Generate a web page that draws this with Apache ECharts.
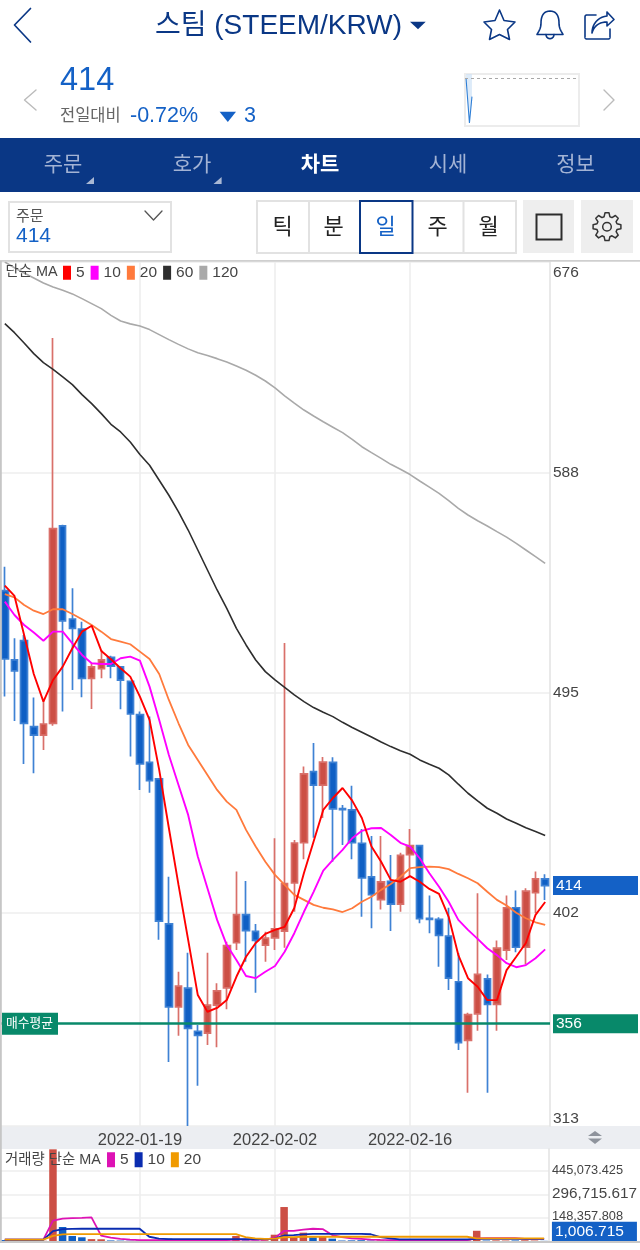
<!DOCTYPE html>
<html lang="ko">
<head>
<meta charset="utf-8">
<title>스팀 (STEEM/KRW)</title>
<style>
  html, body { margin: 0; padding: 0; background: #fff; }
  #chart { width: 640px; height: 1250px; }
</style>
<script src="https://cdn.jsdelivr.net/npm/echarts@6/dist/echarts.min.js"></script>
</head>
<body>
<div id="chart"></div>
<script>
// Daily session dates
const dates = [
  '2022-01-05','2022-01-06','2022-01-07','2022-01-08','2022-01-09','2022-01-10','2022-01-11','2022-01-12','2022-01-13','2022-01-14',
  '2022-01-15','2022-01-16','2022-01-17','2022-01-18','2022-01-19','2022-01-20','2022-01-21','2022-01-22','2022-01-23','2022-01-24',
  '2022-01-25','2022-01-26','2022-01-27','2022-01-28','2022-01-29','2022-01-30','2022-01-31','2022-02-01','2022-02-02','2022-02-03',
  '2022-02-04','2022-02-05','2022-02-06','2022-02-07','2022-02-08','2022-02-09','2022-02-10','2022-02-11','2022-02-12','2022-02-13',
  '2022-02-14','2022-02-15','2022-02-16','2022-02-17','2022-02-18','2022-02-19','2022-02-20','2022-02-21','2022-02-22','2022-02-23',
  '2022-02-24','2022-02-25','2022-02-26','2022-02-27','2022-02-28','2022-03-01','2022-03-02'
];
const labelledDates = ['2022-01-19', '2022-02-02', '2022-02-16'];

// open, close, low, high
const candles = [
  [537.9,509.2,493.4,548.0],[508.8,504.2,483.2,517.9],[516.9,482.2,465.1,519.3],[480.8,477.2,461.2,493.0],[477.2,481.9,471.0,491.3],
  [482.2,564.0,481.2,644.1],[565.1,525.2,487.1,565.6],[526.0,522.1,496.2,538.9],[521.8,501.1,493.1,524.9],[501.1,505.9,488.2,507.5],
  [505.1,508.8,501.1,513.0],[509.9,506.2,501.1,510.6],[505.9,500.3,488.1,506.2],[499.8,486.1,468.2,500.0],[485.8,465.1,454.2,487.1],
  [465.8,458.1,453.0,485.0],[458.8,399.1,391.2,459.0],[397.9,363.0,339.9,417.7],[363.0,371.8,350.9,377.8],[370.9,354.0,313.0,385.8],
  [352.8,351.1,329.9,355.4],[352.0,363.8,347.0,385.8],[363.8,369.8,346.1,373.0],[371.0,388.8,362.0,390.4],[390.0,401.8,386.9,419.9],
  [401.8,395.1,382.0,415.9],[394.8,391.0,369.0,397.9],[389.0,391.9,382.0,394.6],[392.0,395.8,386.9,433.9],[394.9,414.8,387.9,515.9],
  [415.1,431.9,403.0,433.2],[432.0,460.9,425.1,464.0],[461.9,456.2,434.1,473.9],[456.2,465.9,442.4,468.0],[465.8,446.2,424.0,467.9],
  [446.3,445.9,431.1,447.9],[445.8,432.0,425.1,455.9],[431.8,417.2,400.9,437.8],[417.7,410.2,396.1,434.8],[408.1,415.6,404.0,434.8],
  [415.8,406.2,394.9,426.9],[406.2,426.7,403.0,427.8],[427.0,430.8,417.7,437.8],[430.8,400.1,398.2,431.0],[400.2,399.8,394.0,409.8],
  [399.8,393.1,379.9,400.7],[392.8,375.1,370.1,404.7],[373.6,348.0,344.9,385.6],[349.0,359.8,327.0,360.6],[360.1,376.7,353.0,410.8],
  [374.8,364.1,327.0,376.7],[364.1,387.7,353.0,390.9],[386.9,404.7,382.7,409.8],[404.7,388.1,386.0,411.9],[388.1,411.7,380.9,412.9],
  [411.0,416.8,402.5,419.9],[416.8,414.0,408.0,418.8]
];

const ma5 = [540.0,535.7,519.3,502.9,491.3,500.4,506.0,513.7,520.7,523.2,512.6,509.1,505.3,501.8,493.4,483.6,462.6,438.2,414.3,391.2,
  368.0,361.0,362.6,365.9,375.7,384.1,389.9,393.7,395.4,396.7,404.6,419.3,432.5,445.8,450.8,455.0,449.7,442.4,430.4,424.0,
  416.4,415.6,418.0,415.6,412.6,410.5,400.9,384.8,375.1,371.5,365.9,365.9,378.5,384.1,389.9,401.7,407.1];
const ma10 = [533.3,527.7,523.5,520.3,516.9,520.7,520.7,515.8,510.9,507.4,507.1,507.1,509.5,510.2,508.5,497.6,483.6,468.9,456.3,443.7,
  426.2,412.9,399.6,389.0,382.7,376.0,375.1,377.8,380.2,386.2,394.0,403.0,411.4,420.3,424.8,429.0,433.9,437.0,438.1,438.2,
  435.3,432.0,430.4,425.5,419.2,413.5,407.2,399.6,395.4,391.6,387.7,384.8,381.4,379.7,380.6,383.5,387.2];
const ma20 = [536.5,535.1,531.9,529.5,528.1,530.1,530.1,528.1,525.9,523.5,520.7,517.6,516.5,515.4,512.3,509.2,502.9,492.0,482.2,473.1,
  466.8,460.5,454.2,449.3,445.8,437.4,430.4,424.0,418.5,414.3,410.1,408.0,405.9,404.7,404.0,402.9,404.5,407.2,409.3,412.2,
  414.7,417.7,421.3,421.8,422.0,421.8,420.9,418.9,417.1,415.0,411.4,408.0,405.6,402.6,400.3,398.6,397.5];
const ma60 = [650.1,646.3,642.0,637.5,633.7,630.9,627.7,624.5,620.3,616.5,612.3,607.8,604.6,600.4,595.1,590.6,584.3,578.0,571.0,563.4,
  555.0,546.6,538.2,530.5,522.1,515.1,508.8,503.9,500.4,497.3,494.1,491.3,488.8,486.8,485.0,482.6,480.4,478.4,476.4,474.3,
  472.4,470.7,469.2,466.8,465.0,463.3,460.5,456.6,452.8,449.6,446.5,444.4,442.0,440.2,438.3,436.7,435.1];
const ma120 = [676.0,673.6,671.4,669.3,667.2,665.5,664.1,662.6,660.6,658.5,656.4,653.6,651.2,650.0,649.1,647.6,645.5,643.4,641.4,639.5,
  637.9,636.7,635.4,634.0,632.3,630.5,628.4,626.0,623.1,619.8,616.7,613.8,611.3,608.9,606.6,604.3,601.5,598.4,595.9,593.5,
  591.0,588.9,586.7,584.0,581.4,578.8,575.7,572.5,569.7,567.3,565.1,562.7,560.4,557.8,555.0,552.2,549.4];

// Axis ticks fall on fractional prices; the labels show them rounded
const priceTicks = [313, 402.4, 495, 587.5, 676];
const lastPrice = 414;
const avgBuyPrice = 356;

const volumes = [6000,3000,2000,2000,1500,583000,89000,32000,23500,12000,11000,3500,2500,2000,2500,2000,2500,15000,3000,4000,
  2500,3000,2500,3000,32000,4000,3000,5000,40000,216000,22000,53000,23000,27000,15000,3000,4000,5000,3000,4000,
  3000,3500,2500,2000,1500,2000,2500,4500,4000,65000,3000,4000,3000,3500,4500,3000,1006.715];
const volMa5 = [8000,8000,8000,8000,8500,130000,142000,146000,147000,150000,34000,21000,14000,9000,6000,5500,5000,5500,5500,5000,
  5000,5000,5000,5500,9000,8500,8000,9000,19000,64000,65000,72000,78000,76000,38000,24000,17000,14000,9000,7000,
  6000,6000,5000,5000,5000,5000,5000,5000,5000,17000,18000,18000,18000,18000,14000,14000,13000];
const volMa10 = [8000,8000,8000,8000,8000,63000,75000,77000,78000,78000,78000,78000,78000,78000,78000,27000,15000,12000,12000,12000,
  12000,12000,12000,12000,12000,12000,12000,12000,15000,35000,38000,42000,45000,45000,45000,45000,45000,45000,43000,24000,
  17000,10000,10000,10000,10000,10000,10000,10000,10000,14000,14000,14000,14000,14000,14000,14000,14000];
const volMa20 = [9000,9000,9000,9000,9000,33000,42000,44000,44000,44000,44000,44000,44000,44000,44000,44000,44000,44000,44000,44000,
  44000,44000,44000,44000,44000,24000,17000,14000,15000,24000,25000,27000,27000,27000,27000,27000,27000,27000,27000,27000,
  27000,27000,27000,27000,27000,27000,27000,27000,27000,17000,17000,17000,17000,17000,17000,17000,17000];
const volumeTicks = [148357.808, 296715.617, 445073.425];
const lastVolume = 1006.715;

// Intraday sparkline: minutes into the session, price, and previous close
const sparkTimes = [0.9, 3.9, 6.1];
const sparkPrices = [417, 409.7, 414];
const prevClose = 417;

const FONT = '"Liberation Sans","Noto Sans CJK KR",sans-serif';
const NAVY = '#0a3785';
const BLUE = '#1461c6';
const UP = '#cc4f45', UP_EDGE = '#d9706a';
const DOWN = '#0f5fc4', DOWN_EDGE = '#3f82d4';
const GREEN = '#08896a';
const GRID_LINE = '#eeeeee';
const NO_LINE = { color: 'rgba(0,0,0,0)', width: 1, type: 'solid' };

const fmt3 = v => v.toLocaleString('en-US', { minimumFractionDigits: 3, maximumFractionDigits: 3 });

// --- drawing helpers for the app chrome around the chart ---
const label = (x, y, text, size, fill, extra = {}) => ({
  type: 'text', x, y: y + 1.5, z: 20, silent: true,
  style: { text, fill, font: `${extra.weight || 'normal'} ${size}px ${FONT}`,
    textAlign: extra.align || 'left', textVerticalAlign: 'middle' }
});
const box = (x, y, width, height, fill, stroke, lineWidth = 0, z = 10) => ({
  type: 'rect', z, silent: true, shape: { x, y, width, height },
  style: { fill: fill || 'transparent', stroke: stroke || 'transparent', lineWidth }
});
const tri = (points, fill) => ({ type: 'polygon', z: 20, silent: true, shape: { points }, style: { fill } });

// Icon outlines written as small M/L/C/Q/Z paths, flattened into polylines for the graphic component
function stroke(d, color, lineWidth = 1.6) {
  const tokens = d.trim().split(/\s+/);
  const runs = [];
  let cur = null, i = 0;
  const num = () => parseFloat(tokens[i++]);
  while (i < tokens.length) {
    const cmd = tokens[i++];
    if (cmd === 'M') { cur = [[num(), num()]]; runs.push(cur); }
    else if (cmd === 'L') { cur.push([num(), num()]); }
    else if (cmd === 'Z') { cur.push(cur[0].slice()); }
    else if (cmd === 'C' || cmd === 'Q') {
      const p0 = cur[cur.length - 1];
      const pts = [];
      for (let k = 0; k < (cmd === 'C' ? 3 : 2); k++) pts.push([num(), num()]);
      for (let s = 1; s <= 10; s++) {
        const t = s / 10, u = 1 - t;
        if (cmd === 'C') {
          cur.push([0, 1].map(a => u*u*u*p0[a] + 3*u*u*t*pts[0][a] + 3*u*t*t*pts[1][a] + t*t*t*pts[2][a]));
        } else {
          cur.push([0, 1].map(a => u*u*p0[a] + 2*u*t*pts[0][a] + t*t*pts[1][a]));
        }
      }
    }
  }
  return runs.map(points => ({
    type: 'polyline', z: 20, silent: true, shape: { points },
    style: { stroke: color, lineWidth, fill: null, lineJoin: 'round', lineCap: 'round' }
  }));
}

function gearPath(cx, cy, rOut, rIn, teeth) {
  let d = '';
  for (let i = 0; i < teeth; i++) {
    const step = Math.PI * 2 / teeth, a = i * step - Math.PI / 2;
    const pts = [[rIn, a - step * 0.36], [rOut, a - step * 0.18], [rOut, a + step * 0.18], [rIn, a + step * 0.36]];
    pts.forEach((p, j) => {
      d += `${i === 0 && j === 0 ? 'M' : 'L'} ${(cx + p[0] * Math.cos(p[1])).toFixed(1)} ${(cy + p[0] * Math.sin(p[1])).toFixed(1)} `;
    });
  }
  return d + 'Z';
}

const chrome = [
  // header
  stroke('M 30.5 8.5 L 14.5 25 L 30.5 42', NAVY, 1.7),
  label(278.5, 25, '스팀 (STEEM/KRW)', 28, NAVY, { align: 'center' }),
  tri([[410, 21.7], [425.7, 21.7], [418, 29.3]], NAVY),
  stroke('M 499.5 10 L 504 20.5 L 515 22 L 507.5 29.5 L 509.5 39.5 L 499.5 34.5 L 489.5 39.5 L 491.5 29.5 L 484 22 L 495 20.5 Z', NAVY),
  stroke('M 550 11 C 543 11 541 17 541 23 C 541 28 539 31 537 34.5 L 563 34.5 C 561 31 559 28 559 23 C 559 17 557 11 550 11 M 546 34.5 C 546 40 554 40 554 34.5', NAVY),
  stroke('M 596 15 L 587 15 Q 585 15 585 17 L 585 37 Q 585 39 587 39 L 608 39 Q 610 39 610 37 L 610 29', NAVY),
  stroke('M 607 12 L 614 19.5 L 607 26 L 607 22 C 599 22 594 26 592 33 C 592 24 598 17 607 16 Z', NAVY),

  // quote row
  label(60, 80, '414', 32.5, BLUE),
  label(60, 115, '전일대비', 16.5, '#666666'),
  label(130, 115, '-0.72%', 21.5, BLUE),
  tri([[219.6, 111.7], [236, 111.7], [227.8, 122]], BLUE),
  label(244, 115, '3', 21.5, BLUE),
  stroke('M 36 90 L 24.5 100 L 36 110', '#bbbbbb', 1.4),
  stroke('M 604 90 L 614 100 L 604 110', '#bbbbbb', 1.4),

  // tab bar
  box(0, 138, 640, 54, NAVY, null, 0, 5),
  label(63, 164, '주문', 21, '#a3b3d4', { align: 'center' }),
  label(192, 164, '호가', 21, '#a3b3d4', { align: 'center' }),
  label(320, 164, '차트', 21, '#ffffff', { align: 'center', weight: 'bold' }),
  label(448, 164, '시세', 21, '#a3b3d4', { align: 'center' }),
  label(575.5, 164, '정보', 21, '#a3b3d4', { align: 'center' }),
  tri([[94, 177], [94, 184], [86, 184]], '#a9b8d4'),
  tri([[221.6, 177], [221.6, 184], [213.5, 184]], '#a9b8d4'),

  // order selector
  box(9, 202, 162, 50, '#fff', '#e2e2e2', 2),
  label(16, 215, '주문', 15, '#555555'),
  label(16, 235, '414', 21, BLUE),
  stroke('M 145 211 L 153.5 220 L 162 211', '#555555', 1.3),

  // interval selector
  box(257, 201, 259, 52, '#fff', '#e2e2e2', 2),
  stroke('M 309 201 L 309 253 M 463.5 201 L 463.5 253', '#e2e2e2', 2),
  box(360, 201, 52.5, 52, '#fff', NAVY, 2, 12),
  label(282.5, 226, '틱', 22, '#222222', { align: 'center' }),
  label(333.5, 226, '분', 22, '#222222', { align: 'center' }),
  label(385.5, 226, '일', 22, BLUE, { align: 'center' }),
  label(437.5, 226, '주', 22, '#222222', { align: 'center' }),
  label(488.5, 226, '월', 22, '#222222', { align: 'center' }),

  // display and settings buttons
  box(523, 200, 51, 53, '#eeeeee'),
  box(581, 200, 52, 53, '#eeeeee'),
  box(536.5, 214.5, 25, 25, 'transparent', '#2c2c2c', 2, 20),
  stroke(gearPath(607, 226.7, 14, 10.4, 8), '#333333', 1.5),
  { type: 'circle', z: 20, silent: true, shape: { cx: 607, cy: 226.7, r: 4.3 }, style: { fill: 'transparent', stroke: '#333333', lineWidth: 1.5 } },

  // panel frame and date strip
  box(0, 260, 640, 1.8, '#cfcfcf', null, 0, 15),
  box(0, 261, 1.8, 980, '#c6c6c6', null, 0, 15),
  box(0, 1241, 640, 2, '#c8c8c8', null, 0, 15),
  Object.assign(box(0, 1126, 640, 23, '#eceef2'), { z: -1 }),
  tri([[588, 1136], [602, 1136], [595, 1131]], '#8e939c'),
  tri([[588, 1138.5], [602, 1138.5], [595, 1144]], '#8e939c'),

  // panel captions
  label(5.5, 271, '단순 MA', 14.4, '#444444'),
  label(5, 1159, '거래량 단순 MA', 14.4, '#444444')
].flat();

// --- chart series ---
function isLabelledIndex(i) { return labelledDates.includes(dates[i]); }
const maLine = (name, data, color, width, x = 0) => ({
  name, type: 'line', data, xAxisIndex: x, yAxisIndex: x, symbol: 'none', showSymbol: false, silent: true, smooth: false,
  lineStyle: { color, width }, itemStyle: { color }, z: 5
});

const sideLabel = (text, bg) => ({
  show: true, position: 'end', distance: 3, formatter: text, color: '#fff',
  fontFamily: FONT, fontSize: 15.5, backgroundColor: bg,
  width: 82, height: 17, lineHeight: 17, padding: [2, 0, 0, 3], align: 'left', verticalAlign: 'middle'
});

const option = {
  animation: false,
  textStyle: { fontFamily: FONT },
  graphic: { elements: chrome },
  legend: [
    {
      left: 63, top: 265, icon: 'rect', itemWidth: 8, itemHeight: 14, itemGap: 6, selectedMode: false,
      data: ['5', '10', '20', '60', '120'],
      textStyle: { color: '#444', fontSize: 15.5, fontFamily: FONT }, padding: 0
    },
    {
      left: 107, top: 1152, icon: 'rect', itemWidth: 8, itemHeight: 15, itemGap: 6, selectedMode: false,
      data: ['vol5', 'vol10', 'vol20'],
      formatter: n => n.slice(3),
      textStyle: { color: '#444', fontSize: 15.5, fontFamily: FONT }, padding: 0
    }
  ],
  grid: [
    { left: 0, width: 550, top: 262, height: 864 },
    { left: 0, width: 550, top: 1149, height: 92 },
    { left: 465, width: 114, top: 74, height: 52, show: true, borderColor: '#ececec', borderWidth: 2, backgroundColor: '#fff' }
  ],
  xAxis: [
    {
      type: 'category', gridIndex: 0, data: dates, boundaryGap: true,
      axisLine: { show: false }, axisTick: { show: false },
      axisLabel: { interval: isLabelledIndex, margin: 6, color: '#444', fontSize: 16.5, fontFamily: FONT },
      splitLine: { show: true, alignWithLabel: true, interval: isLabelledIndex, lineStyle: { color: GRID_LINE, width: 1.6 } }
    },
    {
      type: 'category', gridIndex: 1, data: dates, boundaryGap: true,
      axisLine: { show: false }, axisTick: { show: false }, axisLabel: { show: false },
      splitLine: { show: true, alignWithLabel: true, interval: isLabelledIndex, lineStyle: { color: GRID_LINE, width: 1.6 } }
    },
    { type: 'value', gridIndex: 2, min: 0, max: 100, show: false, splitLine: { show: false } }
  ],
  yAxis: [
    {
      type: 'value', gridIndex: 0, position: 'right', min: 313, max: 676, scale: true,
      axisLine: { show: true, lineStyle: { color: '#e2e2e2', width: 1.5 } }, axisTick: { show: false, customValues: priceTicks },
      axisLabel: {
        customValues: priceTicks, margin: 3, color: '#444', fontSize: 15.5, fontFamily: FONT, padding: [3, 0, 0, 0],
        formatter: v => String(Math.round(v)),
        verticalAlignMaxLabel: 'top', verticalAlignMinLabel: 'bottom'
      },
      splitLine: { show: true, lineStyle: { color: GRID_LINE, width: 1.6 } }
    },
    {
      type: 'value', gridIndex: 1, position: 'right', min: 0, max: 585000,
      axisLine: { show: true, lineStyle: { color: '#e2e2e2', width: 1.5 } }, axisTick: { show: false, customValues: volumeTicks },
      axisLabel: {
        customValues: volumeTicks, margin: 3, color: '#444', fontFamily: FONT, padding: [0, 0, 2, 0],
        formatter: v => (v === volumeTicks[1] ? `{big|${fmt3(v)}}` : `{small|${fmt3(v)}}`),
        rich: {
          big: { fontSize: 15.3, color: '#444', fontFamily: FONT },
          small: { fontSize: 12.8, color: '#444', fontFamily: FONT }
        }
      },
      splitLine: { show: true, lineStyle: { color: GRID_LINE, width: 1.6 } }
    },
    { type: 'value', gridIndex: 2, min: 409.2, max: 417.7, show: false, splitLine: { show: false } }
  ],
  series: [
    {
      name: '가격', type: 'candlestick', xAxisIndex: 0, yAxisIndex: 0, data: candles, barWidth: 7, silent: true, z: 3,
      itemStyle: { color: UP, color0: DOWN, borderColor: UP_EDGE, borderColor0: DOWN_EDGE, borderWidth: 1.7 },
      markLine: {
        silent: true, symbol: 'none', animation: false, z: 8,
        data: [
          { yAxis: avgBuyPrice, lineStyle: { color: GREEN, width: 2.6, type: 'solid' }, label: sideLabel(String(avgBuyPrice), GREEN) },
          { yAxis: lastPrice, lineStyle: NO_LINE, label: sideLabel(String(lastPrice), BLUE) },
          {
            yAxis: avgBuyPrice, lineStyle: NO_LINE,
            label: {
              show: true, position: 'insideStart', distance: 2, formatter: '매수평균', color: '#fff', fontFamily: FONT, fontSize: 12.8,
              backgroundColor: GREEN, width: 52, height: 22, lineHeight: 22, padding: [0, 0, 0, 4], align: 'left', verticalAlign: 'middle'
            }
          }
        ]
      }
    },
    maLine('120', ma120, '#a9a9a9', 1.6),
    maLine('60', ma60, '#2e2e2e', 1.6),
    maLine('20', ma20, '#ff7a3c', 1.8),
    maLine('10', ma10, '#ff00ff', 1.9),
    maLine('5', ma5, '#ff0000', 1.9),
    {
      name: '거래량', type: 'bar', xAxisIndex: 1, yAxisIndex: 1, barWidth: 7.5, silent: true, z: 3,
      data: volumes.map((v, i) => ({ value: v, itemStyle: { color: candles[i][1] >= candles[i][0] ? UP : DOWN } })),
      markLine: {
        silent: true, symbol: 'none', animation: false, z: 8,
        data: [{
          yAxis: lastVolume, lineStyle: NO_LINE,
          label: Object.assign(sideLabel(fmt3(lastVolume), BLUE), { position: 'end', height: 18, lineHeight: 18, offset: [0, -9] })
        }]
      }
    },
    maLine('vol5', volMa5, '#dd12b4', 1.8, 1),
    maLine('vol10', volMa10, '#0a2cb0', 1.8, 1),
    maLine('vol20', volMa20, '#f09a00', 1.8, 1),
    {
      name: '당일', type: 'line', xAxisIndex: 2, yAxisIndex: 2, symbol: 'none', silent: true,
      data: sparkTimes.map((t, i) => [t, sparkPrices[i]]),
      lineStyle: { color: '#2f7fd6', width: 1.1 },
      areaStyle: { color: '#cfe3f7', origin: 'end' },
      markLine: {
        silent: true, symbol: 'none', animation: false, label: { show: false },
        lineStyle: { color: '#a8a8a8', width: 1, type: [3, 3] },
        data: [{ yAxis: prevClose }]
      }
    }
  ]
};

echarts.init(document.getElementById('chart'), null, { renderer: 'canvas' }).setOption(option);
</script>
</body>
</html>
